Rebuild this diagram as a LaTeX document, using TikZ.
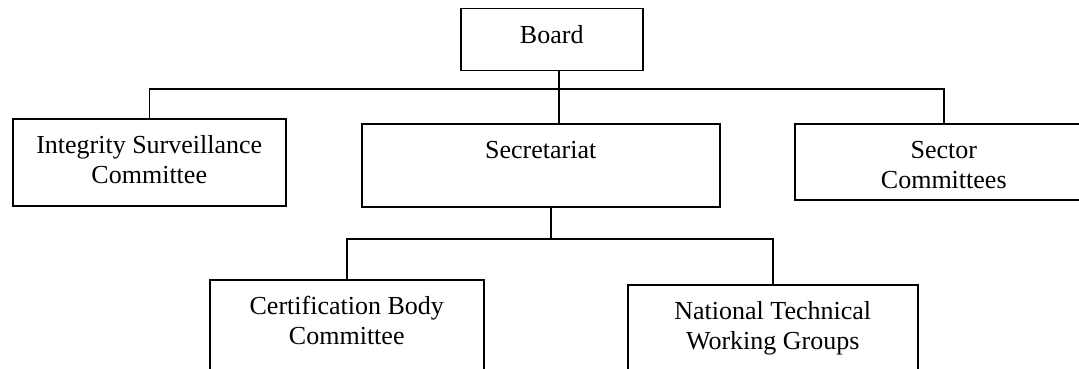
\documentclass[tikz,border=0pt]{standalone}
\usepackage{fontspec}
\setmainfont{Liberation Serif}
\newcommand\orgtext[3]{\parbox[c][#2][t]{#1}{\centering\vspace*{13.5pt}#3}}
\tikzset{
  orgbox/.style={draw, line width=1.5pt, inner sep=0pt, anchor=north west, font=\fontsize{26}{30}\selectfont},
  conn/.style={draw, line width=1.5pt}
}
\begin{document}
\begin{tikzpicture}[x=1pt, y=-1pt]
\useasboundingbox (0,0) rectangle (1079,369);
\clip (0,0) rectangle (1079,369);
\fill[white] (0,0) rectangle (1079,369);
\node[orgbox] (board) at (460,8) {\orgtext{182pt}{62pt}{\strut Board}};
\node[orgbox] (isc) at (12,118) {\orgtext{273pt}{87pt}{\strut Integrity Surveillance\\Committee}};
\node[orgbox] (secr) at (361,123) {\orgtext{358pt}{83pt}{\strut Secretariat}};
\node[orgbox] (sc) at (794,123) {\orgtext{298pt}{76pt}{\strut Sector\\Committees}};
\node[orgbox] (cb) at (209,279) {\orgtext{274pt}{150pt}{\strut Certification Body\\Committee}};
\node[orgbox] (nt) at (627,284) {\orgtext{290pt}{150pt}{\strut National Technical\\Working Groups}};
\coordinate (j1) at (559,89);
\coordinate (j2) at (551,239);
\draw[conn] (j1 |- board.south) -- (j1 |- secr.north);
\draw[conn] (isc.north) |- (j1) -| (sc.north);
\draw[conn] (j2 |- secr.south) -- (j2);
\draw[conn] (cb.north) |- (j2) -| (nt.north);
\end{tikzpicture}
\end{document}
